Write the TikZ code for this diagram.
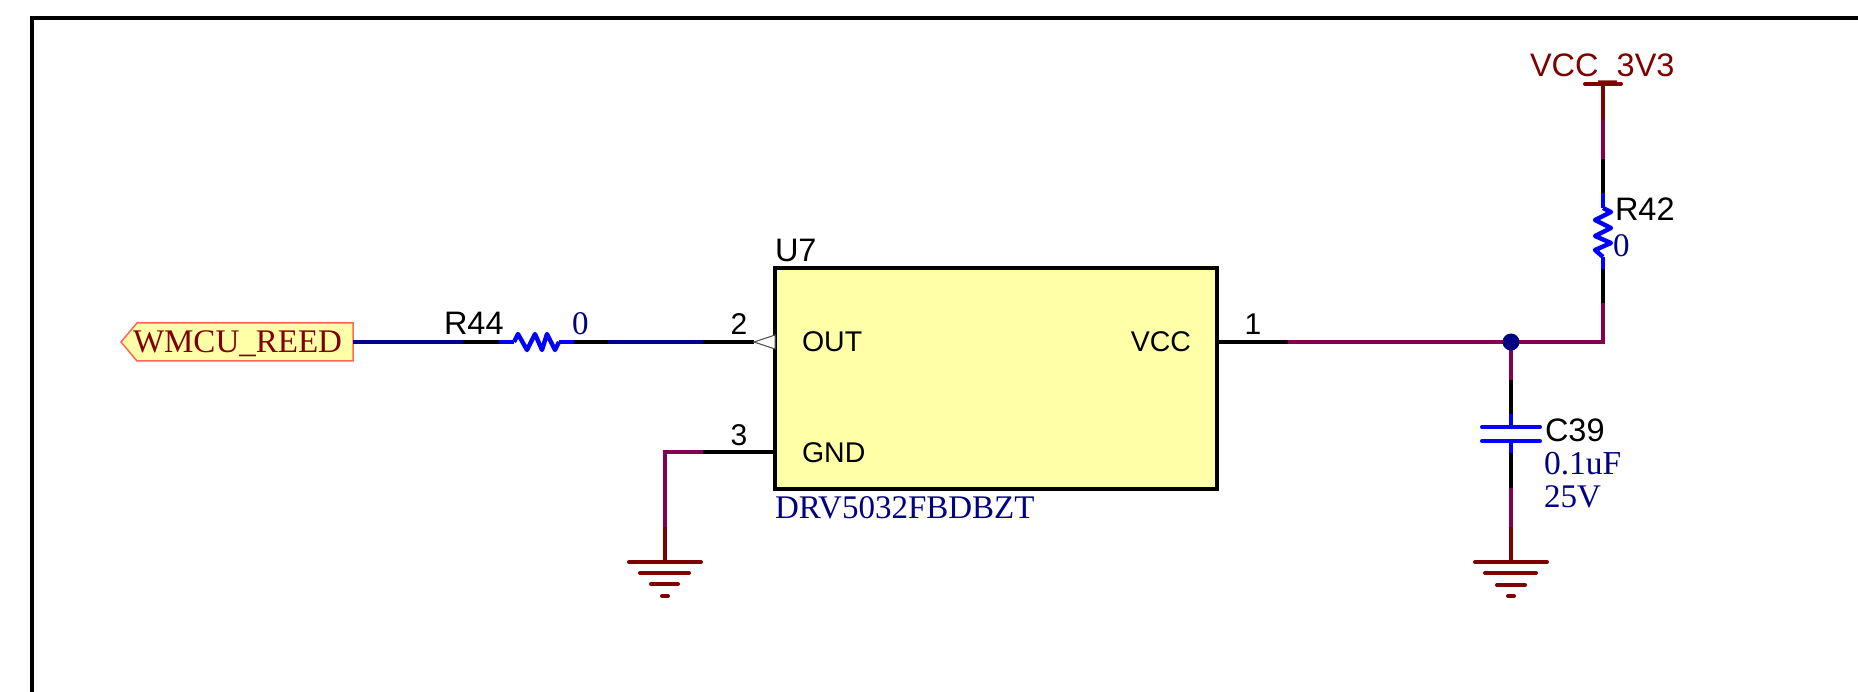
\documentclass[tikz,border=0pt]{standalone}
\usepackage{fontspec}
\setmainfont{Liberation Serif}
\newfontfamily\arialf{Liberation Sans}
\definecolor{wpurple}{HTML}{850050}
\definecolor{wnavy}{HTML}{000090}
\definecolor{wblue}{HTML}{0000FF}
\definecolor{dred}{HTML}{800000}
\definecolor{tnavy}{HTML}{000080}
\definecolor{symfill}{HTML}{FFFFA8}
\definecolor{portline}{HTML}{FF6655}
\tikzset{
 wire/.style={line width=4.4pt,line cap=butt,line join=miter},
 zig/.style={line width=4.4pt,wblue,line join=round},
 bar/.style={line width=4pt,color=dred,line cap=round},
 lab/.style={inner sep=0pt,outer sep=0pt,anchor=base west},
 des/.style={lab,text=black,font=\arialf\fontsize{32.5}{36}\selectfont},
 pinnum/.style={inner sep=0pt,outer sep=0pt,anchor=base,text=black,font=\arialf\fontsize{30}{32}\selectfont},
 pinname/.style={lab,text=black,font=\arialf\fontsize{28.5}{32}\selectfont},
 val/.style={lab,text=tnavy,font=\fontsize{33}{37}\selectfont},
}
\begin{document}
\begin{tikzpicture}[x=1pt,y=-1pt]
\useasboundingbox (0,0) rectangle (1858,692);
% frame
\coordinate (fa) at (32,692);
\coordinate (fb) at (32,18);
\coordinate (fc) at (1858,18);
\draw[line width=4.5pt,line join=miter] (fa) -- (fb) -- (fc);

% symbol
\node[draw=black,fill=symfill,line width=4pt,rectangle,inner sep=0pt,outer sep=0pt,minimum width=442pt,minimum height=221pt,anchor=north west] (u7) at (775,268) {};
\node[des,anchor=base west] (u7ref) at (775,262) {U7};
\node[val] (u7val) at (775,518) {DRV5032FBDBZT};
\node[pinname] (nout) at (802,352) {OUT};
\node[pinname] (ngnd) at (802,462) {GND};
\node[pinname,anchor=base east] (nvcc) at (1191,352) {VCC};
\coordinate (p2) at (775,342);
\coordinate (p3) at (775,452);
\coordinate (p1) at (1217,342);
\node[pinnum] (n2) at (739,335) {2};
\node[pinnum] (n3) at (739,446) {3};
\node[pinnum] (n1) at (1253,335) {1};

% port
\coordinate (pr) at (353,342);
\draw[draw=portline,fill=symfill,line width=1.5pt] (121,342) -- (137,323) -- (353,323) -- (pr) -- (353,361) -- (137,361) -- cycle;
\node[lab,text=dred,font=\fontsize{33}{37}\selectfont] (port) at (133,353) {WMCU\_REED};

% OUT net
\coordinate (a1) at (463,342);
\coordinate (a2) at (499,342);
\coordinate (a3) at (514,342);
\coordinate (a4) at (559,342);
\coordinate (a5) at (574,342);
\coordinate (a6) at (608,342);
\coordinate (a7) at (703,342);
\draw[wire,wnavy] (pr) -- (a1);
\draw[wire,black] (a1) -- (a2);
\draw[wire,wblue] (a2) -- (a3);
\draw[zig] (a3) -- (518,334) -- (527,350) -- (535,334) -- (542,350) -- (547,334) -- (555,350) -- (a4);
\draw[wire,wblue] (a4) -- (a5);
\draw[wire,black] (a5) -- (a6);
\draw[wire,wnavy] (a6) -- (a7);
\draw[wire,black] (a7) -- (754,342);
\draw[draw=black!70,fill=white,line width=1pt] (775,335) -- (754,342) -- (775,349) -- cycle;
\node[des] (r44) at (444,335) {R44};
\node[val] (r44v) at (572,335) {0};

% GND net left
\coordinate (g1) at (703,452);
\coordinate (g2) at (665,452);
\coordinate (g3) at (665,527);
\coordinate (g4) at (665,562);
\draw[wire,black] (p3) -- (g1);
\draw[wire,wpurple] (g1) -- (g2) -- (g3);
\draw[wire,dred] (g3) -- (g4);
\draw[bar] (629,562) -- (701,562);
\draw[bar] (640,573) -- (689,573);
\draw[bar] (651,584) -- (678,584);
\draw[bar] (662,596) -- (668,596);

% VCC net
\coordinate (b1) at (1288,342);
\coordinate (j) at (1511,342);
\coordinate (b2) at (1603,342);
\draw[wire,black] (p1) -- (b1);
\draw[wire,wpurple] (b1) -- (j) -- (b2) -- (1603,303) coordinate (b3);
\coordinate (b4) at (1603,269);
\coordinate (b5) at (1603,257);
\coordinate (b6) at (1603,208);
\coordinate (b7) at (1603,193);
\coordinate (b8) at (1603,159);
\coordinate (b9) at (1603,120);
\coordinate (b10) at (1603,84);
\draw[wire,black] (b3) -- (b4);
\draw[wire,wblue] (b4) -- (b5);
\draw[zig] (b5) -- (1595,250) -- (1611,243) -- (1595,236) -- (1611,228) -- (1595,220) -- (1611,212) -- (b6);
\draw[wire,wblue] (b6) -- (b7);
\draw[wire,black] (b7) -- (b8);
\draw[wire,wpurple] (b8) -- (b9);
\draw[wire,dred] (b9) -- (b10);
\draw[bar] (1585,84) -- (1621,84);
\node[lab,text=dred,font=\arialf\fontsize{32.5}{36}\selectfont] (vcc) at (1530,77) {VCC\_3V3};
\node[des] (r42) at (1615,221) {R42};
\node[val] (r42v) at (1613,257) {0};

% C39 branch
\coordinate (c1) at (1511,380);
\coordinate (c2) at (1511,414);
\coordinate (c3) at (1511,427);
\coordinate (c4) at (1511,441);
\coordinate (c5) at (1511,453);
\coordinate (c6) at (1511,488);
\coordinate (c7) at (1511,527);
\coordinate (c8) at (1511,562);
\draw[wire,wpurple] (j) -- (c1);
\draw[wire,black] (c1) -- (c2);
\draw[wire,wblue] (c2) -- (c3);
\draw[wire,wblue] (c4) -- (c5);
\draw[wire,black] (c5) -- (c6);
\draw[wire,wpurple] (c6) -- (c7);
\draw[wire,dred] (c7) -- (c8);
\draw[line width=4pt,wblue,line cap=round] (1482,427) -- (1540,427);
\draw[line width=4pt,wblue,line cap=round] (1482,441) -- (1540,441);
\draw[bar] (1475,562) -- (1547,562);
\draw[bar] (1485,573) -- (1536,573);
\draw[bar] (1497,585) -- (1525,585);
\draw[bar] (1508,596) -- (1514,596);
\node[des] (c39) at (1545,441) {C39};
\node[lab,text=tnavy,font=\fontsize{33.5}{37}\selectfont] (c39v) at (1544,474) {0.1uF};
\node[val] (c39w) at (1544,507) {25V};
\fill[tnavy] (j) circle (8.5pt);
\end{tikzpicture}
\end{document}
